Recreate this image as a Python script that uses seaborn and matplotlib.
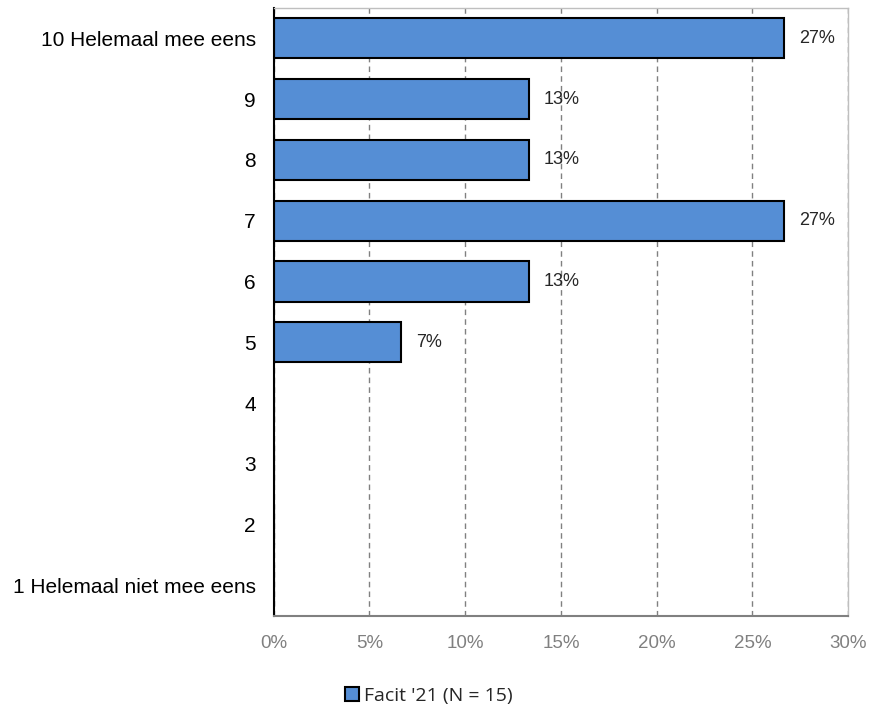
import numpy as np
import pandas as pd
import seaborn as sns
import matplotlib.pyplot as plt
from matplotlib.ticker import PercentFormatter

categories = ['10 Helemaal mee eens', '9', '8', '7', '6', '5', '4', '3', '2',
              '1 Helemaal niet mee eens']
percent = [26.67, 13.33, 13.33, 26.67, 13.33, 6.67, 0, 0, 0, 0]
series = "Facit '21 (N = 15)"

df = pd.DataFrame({'antwoord': categories, 'pct': percent, 'reeks': series})

sns.set_style('white')
plt.rcParams['font.family'] = ['Liberation Sans', 'DejaVu Sans']

fig = plt.figure(figsize=(8.69, 7.08), dpi=100)
ax = fig.add_axes([0.315, 0.130, 0.661, 0.859])

sns.barplot(data=df, y='antwoord', x='pct', hue='reeks', orient='h',
            palette=['#558ED5'], saturation=1, edgecolor='black', linewidth=1.5,
            width=0.66, ax=ax, legend=True)

for y, v in enumerate(percent):
    if v > 0:
        ax.text(v + 0.75, y, f'{v:.0f}%', va='center', ha='left', fontsize=13)

ax.set_xlim(0, 30)
ax.set_xticks(np.arange(0, 31, 5))
ax.xaxis.set_major_formatter(PercentFormatter(decimals=0))
ax.grid(axis='x', color='#808080', linestyle=(0, (4, 3)), linewidth=1)
ax.set_axisbelow(True)
ax.set_xlabel('')
ax.set_ylabel('')
ax.tick_params(axis='x', colors='#808080', labelsize=13.5, length=0, pad=14)
ax.tick_params(axis='y', labelsize=15, length=0, pad=13, labelcolor='black')

for side in ['top', 'right']:
    ax.spines[side].set_color('#BFBFBF')
    ax.spines[side].set_linewidth(1)
ax.spines['bottom'].set_color('#808080')
ax.spines['bottom'].set_linewidth(1.5)
ax.spines['left'].set_color('black')
ax.spines['left'].set_linewidth(1.5)

leg = ax.legend(loc='upper center', bbox_to_anchor=(0.27, -0.088), frameon=False,
                handlelength=0.7, handleheight=0.7, handletextpad=0.25,
                prop={'family': 'Open Sans', 'size': 14})

fig.savefig('out.png', dpi=100)
